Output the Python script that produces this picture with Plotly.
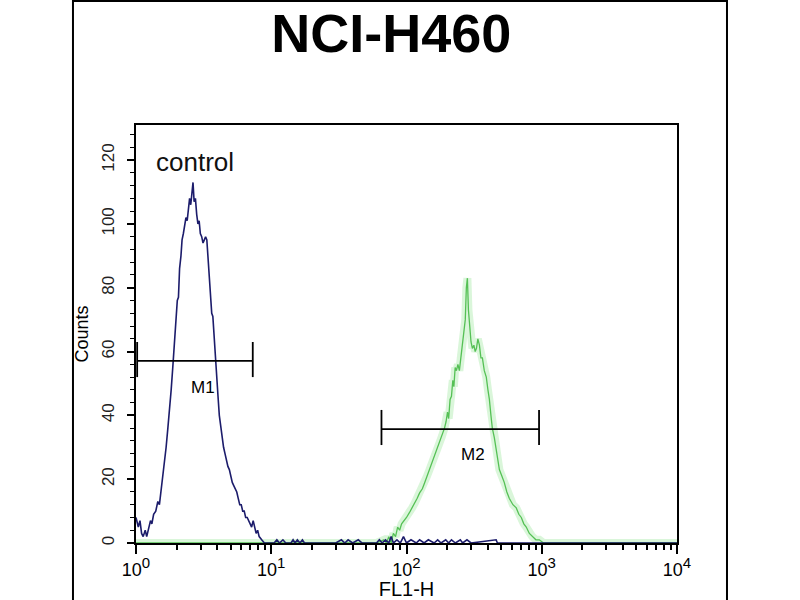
import math
import plotly.graph_objects as go

# ---------------- data ----------------
control_x = [1.00, 1.04, 1.07, 1.10, 1.13, 1.17, 1.20, 1.24, 1.28, 1.31, 1.35, 1.40, 1.45, 1.49,
             1.53, 1.58, 1.62, 1.67, 1.72, 1.77, 1.82, 1.87, 1.92, 1.97, 2.02, 2.06, 2.10, 2.15,
             2.19, 2.24, 2.29, 2.34, 2.39, 2.44, 2.49, 2.54, 2.59, 2.64, 2.69, 2.75, 2.81, 2.87,
             2.93, 2.99, 3.06, 3.13, 3.20, 3.27, 3.34, 3.41, 3.48, 3.55, 3.63, 3.70, 3.78, 3.86,
             3.95, 4.04, 4.13, 4.23, 4.33, 4.44, 4.55, 4.66, 4.78, 4.90, 5.02, 5.15, 5.28, 5.42,
             5.56, 5.70, 5.85, 6.00, 6.15, 6.31, 6.47, 6.64, 6.81, 6.98, 7.16, 7.35, 7.54, 7.73,
             7.93, 8.14, 8.5, 8.9,
             10.5, 11.0, 11.5, 12.2, 12.8, 14.0, 14.5, 15.0, 15.6, 16.3, 17.0, 17.6,
             30, 33, 35, 37, 40, 44, 47, 60, 63, 66, 70, 74, 77, 80, 85, 90, 95, 100,
             108, 118, 125, 135, 145, 160, 170, 180, 195, 205, 215, 230, 250, 260, 280, 300,
             460, 470, 10000]
control_y = [8, 5, 7, 3, 2, 4, 2, 5, 7, 6, 9, 10, 13, 12,
             16, 21, 24, 30, 36, 41, 48, 55, 62, 68, 76, 77, 86, 90,
             95, 97, 99, 102, 101, 104, 108, 106, 110, 113, 107, 108, 103, 100,
             101, 97, 96, 94, 95, 96, 95, 90, 84, 80, 72, 71, 64, 59,
             52, 46, 40, 36, 33, 30, 28, 26, 24, 23, 21, 19, 18, 17,
             16, 14, 12, 12, 10, 10, 8, 8, 7, 6, 5, 7, 5, 3,
             4, 2, 1, 0,
             0, 1, 0, 1, 0, 0, 1, 0, 1, 0, 1, 0,
             0, 1, 0, 1, 0, 1, 0, 0, 1, 0, 1, 0, 2, 0, 1, 0, 2, 0,
             1, 0, 1, 0, 1, 0, 1, 0, 1, 0, 1, 0, 1, 0, 1, 0,
             1, 0, 0]

stained_x = [1, 60, 68, 71, 74, 77, 80, 83, 86, 89, 92, 96, 100, 105, 110, 115, 120, 125, 131,
             136, 142, 148, 155, 161, 168, 175, 183, 191, 196, 201, 205, 210, 215, 220, 224,
             229, 234, 240, 246, 252, 259, 265, 272, 277, 282, 287, 292, 300, 307, 315, 322,
             329, 337, 346, 355, 364, 376, 389, 400, 410, 421, 431, 446, 461, 473, 486, 507,
             528, 552, 575, 612, 648, 677, 706, 737, 768, 810, 851, 905, 960, 1030, 1100, 10000]
stained_y = [0, 0, 1, 0, 2, 0, 3, 2, 5, 4, 6, 7, 8, 9.5, 11, 12.5, 14, 15.7, 17,
             18.8, 21, 23, 25, 27, 29, 31, 33.5, 36, 38, 41, 39, 45, 46, 51, 49,
             55, 54, 56, 54, 58, 61, 66, 70, 80, 83, 73, 68, 63, 61, 62, 60,
             61, 64, 62, 58, 58, 54, 52, 48, 45, 40, 36, 33, 29, 26, 23, 21,
             19, 16, 14, 12, 11, 9, 8, 6, 5, 3, 2, 1, 1, 0, 0, 0]

# marker gates: [start, end], [level, tick low, tick high]
m1_range = [1.02, 7.3]
m1_level = [57.1, 52.0, 63.0]
m2_range = [65.3, 955]
m2_level = [35.7, 30.7, 41.7]

x_major = [1, 10, 100, 1000, 10000]
x_exponents = ["0", "1", "2", "3", "4"]
x_minor = [m * d for d in [1, 10, 100, 1000] for m in range(2, 10)]

FONT = "Liberation Sans, Arial, Helvetica, sans-serif"
x_major_text = ["10<sup><span style='font-size:15px'>%s</span></sup>" % e for e in x_exponents]

fig = go.Figure()

# stained (green) with glow
fig.add_trace(go.Scatter(x=stained_x, y=stained_y, mode="lines",
                         line=dict(color="rgba(150,228,150,0.35)", width=8),
                         hoverinfo="skip", showlegend=False))
fig.add_trace(go.Scatter(x=stained_x, y=stained_y, mode="lines",
                         line=dict(color="#55c055", width=1.3),
                         showlegend=False))
# control (navy)
fig.add_trace(go.Scatter(x=control_x, y=control_y, mode="lines",
                         line=dict(color="#1c1c6b", width=1.6),
                         showlegend=False))


def gate(rng, lvl):
    x0, x1 = rng
    g, lo, hi = lvl
    return go.Scatter(x=[x0, x1, None, x0, x0, None, x1, x1],
                      y=[g, g, None, lo, hi, None, lo, hi],
                      mode="lines", line=dict(color="black", width=1.8),
                      hoverinfo="skip", showlegend=False)


fig.add_trace(gate(m1_range, m1_level))
fig.add_trace(gate(m2_range, m2_level))

fig.add_annotation(x=0.494, y=48.6, text="M1", showarrow=False,
                   font=dict(family=FONT, size=17, color="black"))
fig.add_annotation(x=2.494, y=27.6, text="M2", showarrow=False,
                   font=dict(family=FONT, size=17, color="black"))
fig.add_annotation(x=0.135, y=119.5, text="control", showarrow=False,
                   xanchor="left", yanchor="middle",
                   font=dict(family=FONT, size=26, color="#111"))

# outer frame
fig.add_shape(type="rect", xref="paper", yref="paper",
              x0=-0.1165, x1=1.0924, y0=-0.3, y1=1.2967,
              line=dict(color="black", width=2))

fig.update_layout(
    width=800, height=600,
    margin=dict(l=136, r=123, t=125, b=57, autoexpand=False),
    paper_bgcolor="white", plot_bgcolor="white",
    title=dict(text="<b>NCI-H460</b>", x=0.489, xanchor="center",
               y=0.945, yanchor="middle", automargin=False,
               font=dict(family=FONT, size=54, color="black")),
    xaxis=dict(type="log", range=[0, 4], showgrid=False, zeroline=False,
               automargin=False,
               showline=True, linecolor="black", linewidth=1.8, mirror=True,
               tickmode="array", tickvals=x_major, ticktext=x_major_text,
               ticks="outside", ticklen=9, tickwidth=2, tickcolor="black",
               tickfont=dict(family=FONT, size=18, color="black"),
               minor=dict(tickmode="array", tickvals=x_minor, ticks="outside",
                          ticklen=5, tickwidth=1.5, tickcolor="black", showgrid=False),
               title=dict(text="FL1-H", standoff=2,
                          font=dict(family=FONT, size=20, color="black"))),
    yaxis=dict(range=[0, 131], showgrid=False, zeroline=False,
               automargin=False,
               showline=True, linecolor="black", linewidth=1.8, mirror=True,
               dtick=20, tick0=0, ticks="outside", ticklen=7, tickwidth=1.5,
               tickcolor="black", tickangle=-90, ticklabelstandoff=6,
               tickfont=dict(family=FONT, size=17, color="#222"),
               minor=dict(dtick=4, tick0=0, ticks="outside", ticklen=4,
                          tickwidth=1.2, tickcolor="black", showgrid=False),
               title=dict(text="Counts", standoff=6,
                          font=dict(family=FONT, size=18, color="black"))),
)

fig.write_html("out.html", config={"displayModeBar": False},
               post_script="document.body.style.margin='0';document.body.style.padding='0';")
